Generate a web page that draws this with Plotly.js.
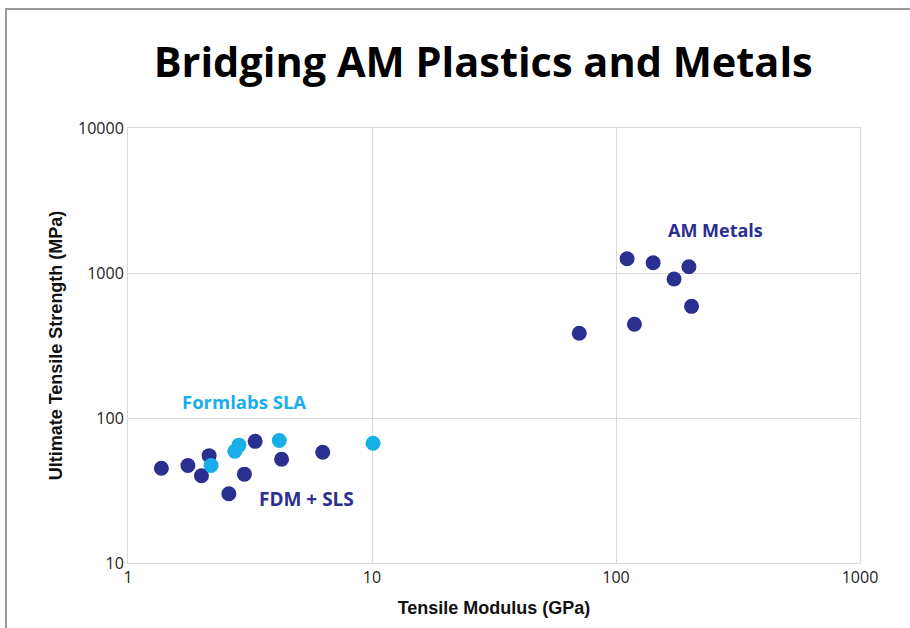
<!DOCTYPE html>
<html>
<head>
<meta charset="utf-8">
<script src="https://cdn.plot.ly/plotly-3.0.1.min.js"></script>
<style>
  html, body { margin: 0; padding: 0; background: #fff; }
  #chart { width: 910px; height: 628px; position: relative; }
  #frame { position: absolute; left: 5px; top: 8px; width: 905px; height: 620px;
           border-left: 2px solid #9a9a9a; border-top: 2px solid #9a9a9a; pointer-events: none; }
</style>
</head>
<body>
<div id="chart"></div>
<div id="frame"></div>
<script>
// Tensile modulus (GPa) and ultimate tensile strength (MPa)
const fdmSlsModulus  = [1.37, 1.76, 2.0, 2.15, 2.59, 3.0, 3.32, 4.26, 6.28];
const fdmSlsStrength = [45, 47, 40, 55, 30, 41, 69, 52, 58];

const slaModulus  = [2.19, 2.74, 2.85, 4.17, 10.1];
const slaStrength = [47, 59, 65, 70, 67];

const metalModulus  = [70.7, 111, 119, 142, 173, 199, 204];
const metalStrength = [384, 1255, 443, 1178, 909, 1105, 589];

const xTickVals = [1, 10, 100, 1000];
const xTickText = ['1', '10', '100', '1000'];
const yTickVals = [10, 100, 1000, 10000];
const yTickText = ['10', '100', '1000', '10000'];

const navy = '#2b2f8f';
const cyan = '#1aaee8';

const traces = [
  { x: fdmSlsModulus, y: fdmSlsStrength, name: 'FDM + SLS', type: 'scatter', mode: 'markers',
    marker: { color: navy, size: 15 } },
  { x: metalModulus, y: metalStrength, name: 'AM Metals', type: 'scatter', mode: 'markers',
    marker: { color: navy, size: 15 } },
  { x: slaModulus, y: slaStrength, name: 'Formlabs SLA', type: 'scatter', mode: 'markers',
    marker: { color: cyan, size: 15 } }
];

const gridC = '#d9d9d9';
const layout = {
  width: 910, height: 628,
  margin: { l: 128, r: 50, t: 128, b: 65 },
  paper_bgcolor: '#fff', plot_bgcolor: '#fff',
  showlegend: false,
  font: { family: 'Open Sans, sans-serif', color: '#222' },
  title: {
    text: '<b>Bridging AM Plastics and Metals</b>',
    font: { family: 'Open Sans, sans-serif', size: 41.5, color: '#000' },
    xref: 'container', x: 0.531, xanchor: 'center',
    yref: 'container', y: 0.901, yanchor: 'middle'
  },
  xaxis: {
    type: 'log', range: [0, 3],
    tickvals: xTickVals, ticktext: xTickText,
    showgrid: true, gridcolor: gridC, gridwidth: 1,
    showline: true, linecolor: gridC, linewidth: 1, mirror: true,
    ticks: '', tickfont: { family: 'Open Sans, sans-serif', size: 16, color: '#222' },
    title: { text: '<b>Tensile Modulus (GPa)</b>', font: { family: 'Liberation Sans, sans-serif', size: 18, color: '#111' }, standoff: 14 }
  },
  yaxis: {
    type: 'log', range: [1, 4],
    tickvals: yTickVals, ticktext: yTickText,
    showgrid: true, gridcolor: gridC, gridwidth: 1,
    showline: true, linecolor: gridC, linewidth: 1, mirror: true,
    ticks: '', tickfont: { family: 'Open Sans, sans-serif', size: 16, color: '#222' },
    title: { text: '<b>Ultimate Tensile Strength (MPa)</b>', font: { family: 'Liberation Sans, sans-serif', size: 18, color: '#111' }, standoff: 10 }
  },
  annotations: [
    { text: '<b>AM Metals</b>', xref: 'paper', yref: 'paper', x: 0.803, y: 0.7655,
      xanchor: 'center', yanchor: 'middle', showarrow: false,
      font: { family: 'Open Sans, sans-serif', size: 18, color: navy } },
    { text: '<b>Formlabs SLA</b>', xref: 'paper', yref: 'paper', x: 0.1585, y: 0.3724,
      xanchor: 'center', yanchor: 'middle', showarrow: false,
      font: { family: 'Open Sans, sans-serif', size: 18.5, color: cyan } },
    { text: '<b>FDM + SLS</b>', xref: 'paper', yref: 'paper', x: 0.2445, y: 0.147,
      xanchor: 'center', yanchor: 'middle', showarrow: false,
      font: { family: 'Open Sans, sans-serif', size: 19, color: navy } }
  ]
};

Plotly.newPlot('chart', traces, layout, { displayModeBar: false, staticPlot: true });
</script>
</body>
</html>
